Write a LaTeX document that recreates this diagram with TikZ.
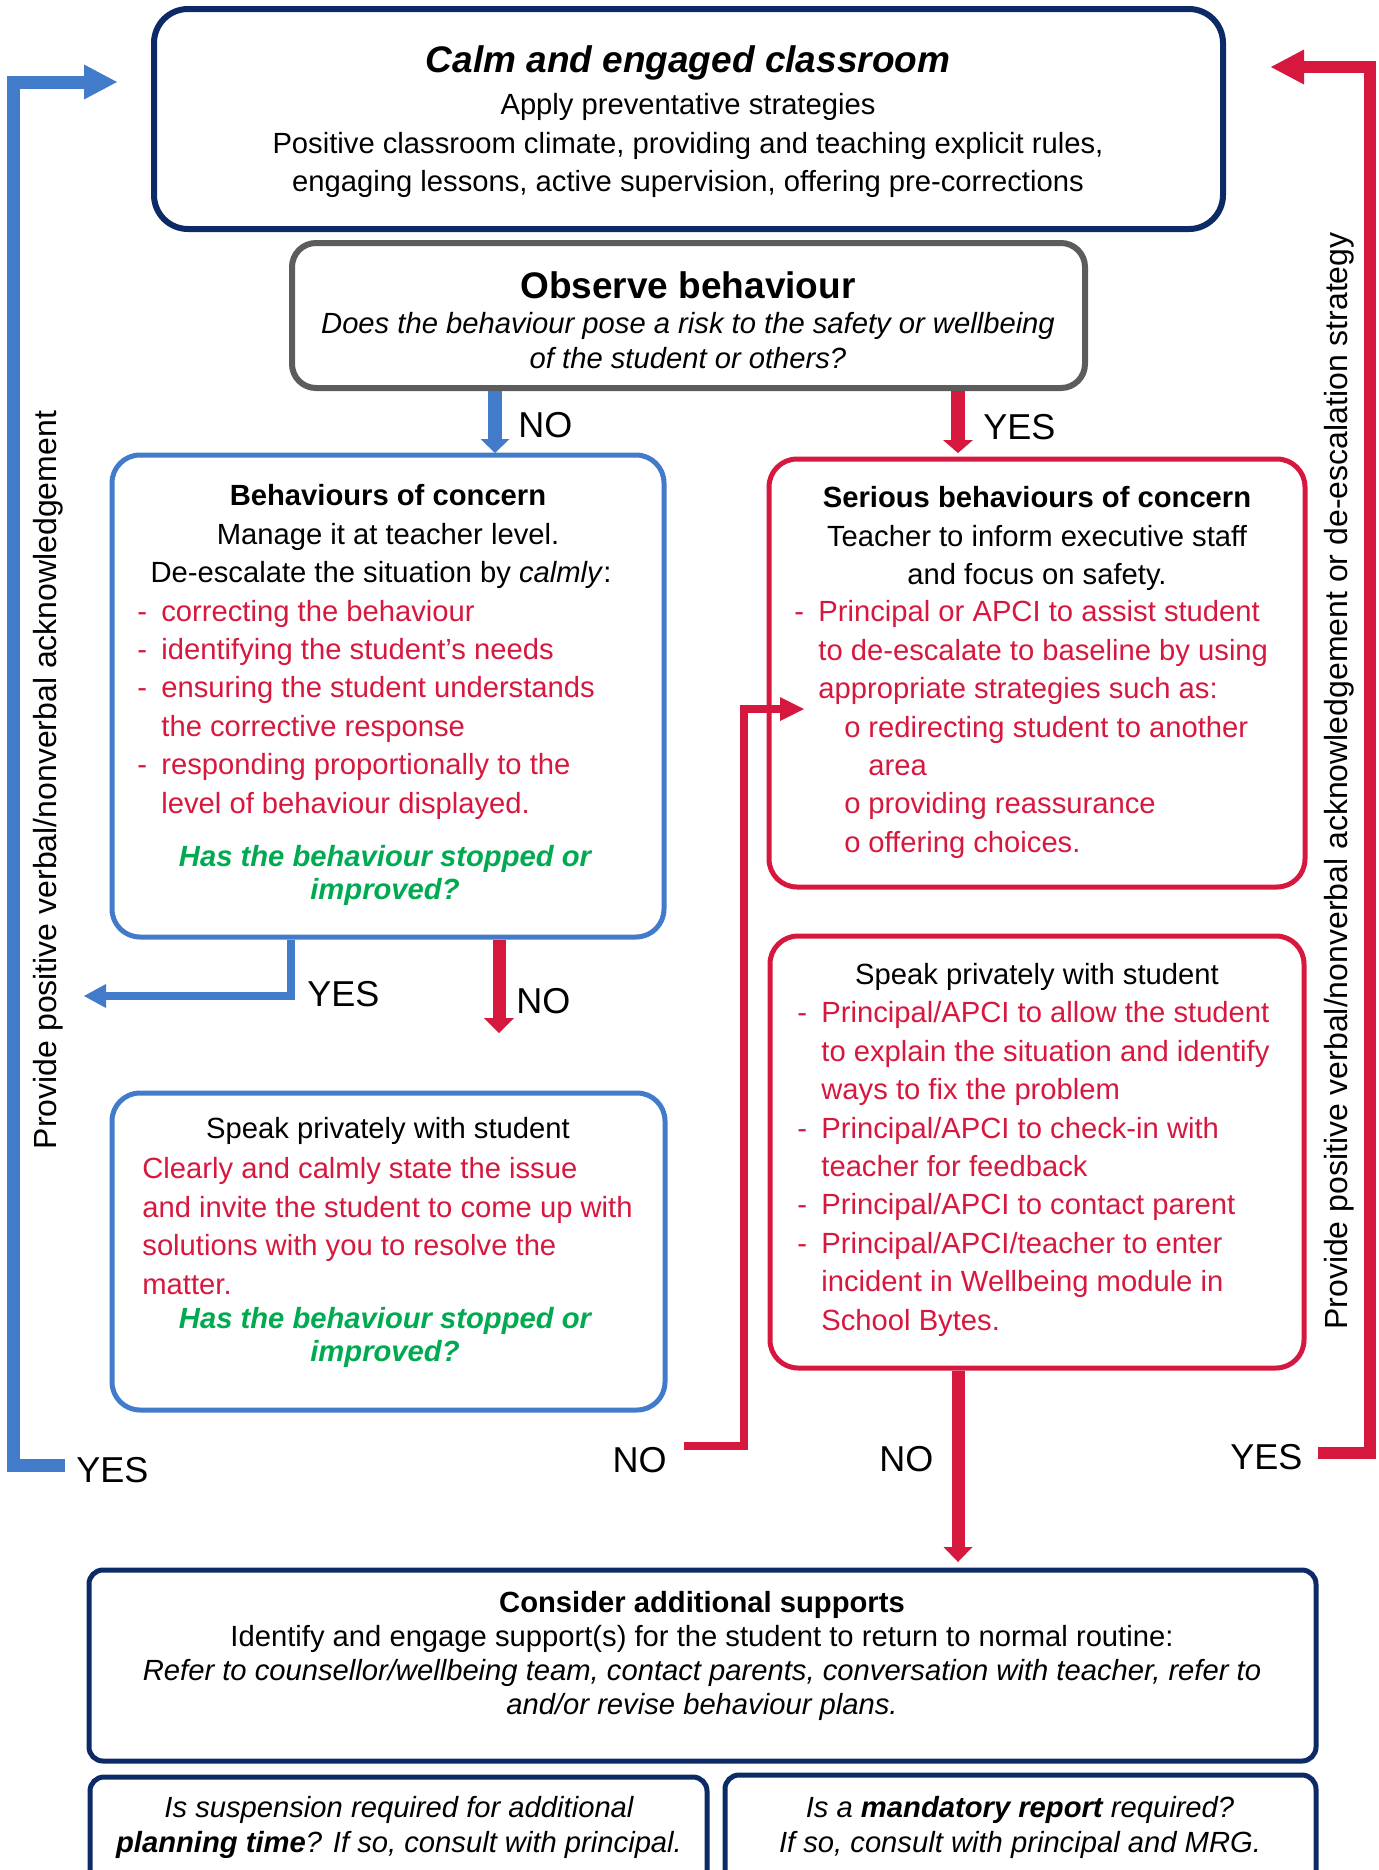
\documentclass[tikz,border=0pt]{standalone}
\usepackage{fontspec}
\setmainfont{Liberation Sans}
\usetikzlibrary{arrows.meta,positioning,fit}
\definecolor{navy}{RGB}{12,42,102}
\definecolor{cblue}{RGB}{66,123,201}
\definecolor{cred}{RGB}{214,24,62}
\definecolor{cgray}{RGB}{92,92,92}
\definecolor{cgreen}{RGB}{0,170,80}
% 列表符号
\newcommand{\dashitem}{\makebox[12pt][l]{-}}
\newcommand{\circitem}{\hspace*{25pt}\makebox[12pt][l]{o}}
\newcommand{\indA}{\hspace*{12pt}}
\newcommand{\indB}{\hspace*{37pt}}
\tikzset{
  box/.style={draw=#1, line width=2.5pt, rounded corners=14pt, inner sep=0pt},
  body/.style={font=\fontsize{14.6}{19.2}\selectfont, inner sep=0pt},
  head/.style={font=\fontsize{18.5}{20}\selectfont\bfseries, inner sep=0pt},
  lbl/.style={font=\fontsize{18}{18}\selectfont, inner sep=0pt, anchor=west},
  side/.style={font=\fontsize{16}{16}\selectfont, inner sep=0pt, rotate=90},
  ask/.style={body, font=\fontsize{14.6}{16.5}\selectfont\bfseries\itshape, text=cgreen, align=center},
  bluebar/.style={draw=cblue, line width=#1},
  redbar/.style={draw=cred, line width=#1}
}
\begin{document}
\begin{tikzpicture}[x=0.5pt, y=-0.5pt]
  \clip (0,0) rectangle (1379,1870);
  % 顶部框
  \node[box=navy, line width=3pt, rounded corners=17pt, fit={(154,9) (1223,229)}] (calm) {};
  \node[head, font=\fontsize{18.5}{20}\selectfont\bfseries\itshape] (calmtitle) at (688,63) {Calm and engaged classroom};
  \node[body, align=center] (calmtext) at (688,145.5) {Apply preventative strategies\\Positive classroom climate, providing and teaching explicit rules,\\engaging lessons, active supervision, offering pre-corrections};
  % 观察
  \node[box=cgray, line width=3pt, rounded corners=12pt, fit={(292,243) (1085,388)}] (observe) {};
  \node[head] (obstitle) at (688,285) {Observe behaviour};
  \node[body, font=\fontsize{14.6}{17.5}\selectfont\itshape, align=center] (obstext) at (688,340.5) {Does the behaviour pose a risk to the safety or wellbeing\\of the student or others?};
  % 左列
  \node[box=cblue, fit={(112,455) (664,937)}] (concern) {};
  \node[body, align=center] (concernhead) at (388,536.5) {\textbf{Behaviours of concern}\\Manage it at teacher level.\\De-escalate the situation by \textit{calmly}:\hspace*{7pt}};
  \node[body, align=left, anchor=west, text=cred] (concernlist) at (137,709.5) {\dashitem correcting the behaviour\\
    \dashitem identifying the student’s needs\\
    \dashitem ensuring the student understands\\
    \indA the corrective response\\
    \dashitem responding proportionally to the\\
    \indA level of behaviour displayed.};
  \node[ask] (concernask) at (385,875.5) {Has the behaviour stopped or\\improved?};
  \node[box=cblue, fit={(112,1093) (665,1410)}] (speakblue) {};
  \node[body] (speakbluehead) at (388,1131) {Speak privately with student};
  \node[body, align=left, anchor=west, text=cred] (speakbluetext) at (142,1226) {Clearly and calmly state the issue\\and invite the student to come up with\\solutions with you to resolve the\\matter.};
  \node[ask] (speakblueask) at (385,1337) {Has the behaviour stopped or\\improved?};
  % 右列
  \node[box=cred, fit={(769,459) (1305,887)}] (serious) {};
  \node[body, align=center] (serioushead) at (1037,538.5) {\textbf{Serious behaviours of concern}\\Teacher to inform executive staff\\and focus on safety.};
  \node[body, align=left, anchor=west, text=cred] (seriouslist) at (794,729.5) {\dashitem Principal or APCI to assist student\\
    \indA to de-escalate to baseline by using\\
    \indA appropriate strategies such as:\\
    \circitem redirecting student to another\\
    \indB area\\
    \circitem providing reassurance\\
    \circitem offering choices.};
  \node[box=cred, fit={(770,936) (1304,1368)}] (speakred) {};
  \node[body] (speakredhead) at (1037,977) {Speak privately with student};
  \node[body, align=left, anchor=west, text=cred] (speakredlist) at (797,1169) {\dashitem Principal/APCI to allow the student\\
    \indA to explain the situation and identify\\
    \indA ways to fix the problem\\
    \dashitem Principal/APCI to check-in with\\
    \indA teacher for feedback\\
    \dashitem Principal/APCI to contact parent\\
    \dashitem Principal/APCI/teacher to enter\\
    \indA incident in Wellbeing module in\\
    \indA School Bytes.};
  % 底部
  \node[box=navy, rounded corners=7pt, fit={(89,1570) (1316,1761)}] (supports) {};
  \node[body, font=\fontsize{14.6}{17}\selectfont, align=center] (supportstext) at (702,1656) {\textbf{Consider additional supports}\\Identify and engage support(s) for the student to return to normal routine:\\\textit{Refer to counsellor/wellbeing team, contact parents, conversation with teacher, refer to}\\\textit{and/or revise behaviour plans.}};
  \node[box=navy, rounded corners=7pt, fit={(90,1777) (707,1910)}] (suspension) {};
  \node[body, font=\fontsize{14.6}{17.5}\selectfont\itshape, align=center] (suspensiontext) at (399,1827.5) {Is suspension required for additional\\\textbf{planning time}? If so, consult with principal.};
  \node[box=navy, rounded corners=7pt, fit={(725,1775) (1316,1910)}] (mandatory) {};
  \node[body, font=\fontsize{14.6}{17.5}\selectfont\itshape, align=center] (mandatorytext) at (1020,1827.5) {Is a \textbf{mandatory report} required?\\If so, consult with principal and MRG.};
  % 侧边文字
  \node[side] (sideleft) at (48,780) {Provide positive verbal/nonverbal acknowledgement};
  \node[side] (sideright) at (1339,781) {Provide positive verbal/nonverbal acknowledgement or de-escalation strategy};
  % 标签
  \node[lbl] (noA) at (518,425) {NO};
  \node[lbl] (yesA) at (983,427) {YES};
  \node[lbl] (yesB) at (307,994) {YES};
  \node[lbl] (noB) at (516,1001) {NO};
  \node[lbl] (yesC) at (76,1470) {YES};
  \node[lbl, anchor=east] (noC) at (667,1460) {NO};
  \node[lbl] (noD) at (879,1459) {NO};
  \node[lbl] (yesD) at (1230,1457) {YES};
  % 箭头
  \coordinate (noAtip) at (495,453);
  \coordinate (yesAtip) at (958,453);
  \coordinate (yesBrail) at (291,0);
  \coordinate (yesBtip) at (84,996);
  \coordinate (noBtip) at (499,1033);
  \coordinate (leftrail) at (13,0);
  \coordinate (calmin) at (117,82);
  \coordinate (noCstart) at (684,1446);
  \coordinate (noCrail) at (744,0);
  \coordinate (seriousin) at (804,709);
  \coordinate (noDtip) at (958,1562);
  \coordinate (yesDstart) at (1318,1453);
  \coordinate (rightrail) at (1370,0);
  \coordinate (calmrin) at (1271,67);
  \draw[bluebar=7pt, -{Triangle[length=7pt,width=14.5pt,line width=0pt]}] (noAtip |- observe.south) -- (noAtip);
  \draw[redbar=7pt, -{Triangle[length=6.5pt,width=15pt,line width=0pt]}] (yesAtip |- observe.south) -- (yesAtip);
  \draw[bluebar=4pt, -{Triangle[length=11pt,width=12pt,line width=0pt]}] (yesBrail |- concern.south) -- (yesBrail |- yesBtip) -- (yesBtip);
  \draw[redbar=6.5pt, -{Triangle[length=7.5pt,width=15pt,line width=0pt]}] (noBtip |- concern.south) -- (noBtip);
  \draw[bluebar=6.5pt, -{Triangle[length=16.5pt,width=17.5pt,line width=0pt]}] ([xshift=-5.5pt]yesC.west |- 0,1465) -- (leftrail |- 0,1465) -- (leftrail |- calmin) -- (calmin);
  \draw[redbar=4pt, -{Triangle[length=12pt,width=12pt,line width=0pt]}] (noCstart) -- (noCrail |- noCstart) -- (noCrail |- seriousin) -- (seriousin);
  \draw[redbar=6.5pt, -{Triangle[length=7.5pt,width=14.5pt,line width=0pt]}] (noDtip |- speakred.south) -- (noDtip);
  \draw[redbar=6pt, -{Triangle[length=16.5pt,width=17.5pt,line width=0pt]}] (yesDstart) -- (rightrail |- yesDstart) -- (rightrail |- calmrin) -- (calmrin);
\end{tikzpicture}
\end{document}
